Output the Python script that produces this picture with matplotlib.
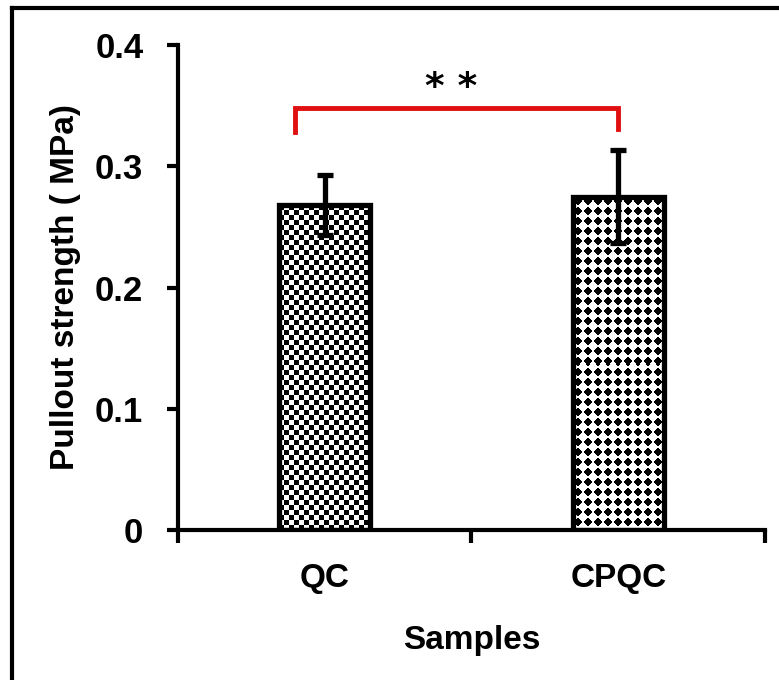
import numpy as np
import matplotlib
matplotlib.use("Agg")
import matplotlib.pyplot as plt
from matplotlib.lines import Line2D

# data
samples = ["QC", "CPQC"]
strength = [0.268, 0.275]
strength_err = [0.025, 0.038]
yticks = [0, 0.1, 0.2, 0.3, 0.4]
ytick_labels = ["0", "0.1", "0.2", "0.3", "0.4"]
bracket_y = 0.348
bracket_ends = [0.328, 0.331]
signif = "* *"

plt.rcParams["font.family"] = ["Liberation Sans", "DejaVu Sans"]
plt.rcParams["font.weight"] = "bold"

fig = plt.figure(figsize=(7.79, 6.8), dpi=100)
ax = fig.add_axes([0.2285, 0.2206, 0.982 - 0.2285, 0.9338 - 0.2206])

x = np.arange(len(samples))
bars = ax.bar(x, strength, width=0.31, facecolor="none", edgecolor="black",
              linewidth=3.8, zorder=3)
ax.errorbar(x, strength, yerr=strength_err, fmt="none", ecolor="black",
            elinewidth=3.8, capsize=6, capthick=3.8, zorder=4)

ax.set_xlim(-0.5, 1.5)
ax.set_ylim(0, 0.4)
fig.canvas.draw()


# texture inside the bars (checker for QC, diamond dots for CPQC)
def fill_texture(bar, kind):
    x0, y0 = bar.get_x(), bar.get_y()
    x1, y1 = x0 + bar.get_width(), y0 + bar.get_height()
    p0 = ax.transData.transform((x0, y0))
    p1 = ax.transData.transform((x1, y1))
    nx = int(round(abs(p1[0] - p0[0])))
    ny = int(round(abs(p1[1] - p0[1])))
    jj, ii = np.meshgrid(np.arange(nx), np.arange(ny))
    if kind == "checker":
        img = ((ii // 5 + jj // 5) % 2).astype(float)
    else:
        dx = (jj % 10) - 4.5
        dy = (ii % 10) - 4.5
        img = (np.abs(dx) + np.abs(dy) > 4.2).astype(float)
    im = ax.imshow(img, cmap="gray", vmin=0, vmax=1, interpolation="nearest",
                   extent=(x0, x1, y0, y1), aspect="auto", zorder=2)
    im.set_clip_path(bar)


fill_texture(bars[0], "checker")
fill_texture(bars[1], "dots")
ax.set_xlim(-0.5, 1.5)
ax.set_ylim(0, 0.4)

# significance bracket
ax.plot([-0.1, -0.1, 1.0, 1.0], [bracket_ends[0], bracket_y, bracket_y, bracket_ends[1]],
        color="#e01010", linewidth=3.5, solid_joinstyle="miter", clip_on=False, zorder=5)
ax.text(0.43, bracket_y + 0.002, signif, ha="center", va="bottom", fontsize=27,
        fontweight="bold", family=["DejaVu Sans"])

# axes style
for s in ["top", "right"]:
    ax.spines[s].set_visible(False)
for s in ["left", "bottom"]:
    ax.spines[s].set_linewidth(3)

ax.set_yticks(yticks)
ax.set_yticklabels(ytick_labels)
ax.tick_params(axis="y", direction="out", length=8, width=3, pad=17, labelsize=25)
ax.set_xticks(x)
ax.set_xticklabels(samples)
ax.set_xticks([-0.5, 0.5, 1.5], minor=True)
ax.tick_params(axis="x", which="major", length=0, pad=24, labelsize=24)
ax.tick_params(axis="x", which="minor", direction="out", length=9, width=3)
for lab in ax.get_xticklabels() + ax.get_yticklabels():
    lab.set_fontweight("bold")

ax.set_ylabel("Pullout strength ( MPa)", fontsize=24, fontweight="bold", labelpad=10)
ax.set_xlabel("Samples", fontsize=24, fontweight="bold", labelpad=22)

# outer frame (left and top edges visible)
fig.add_artist(Line2D([12 / 779, 12 / 779], [0, 1 - 8 / 680], transform=fig.transFigure,
                      color="black", linewidth=3))
fig.add_artist(Line2D([12 / 779, 1], [1 - 8 / 680, 1 - 8 / 680], transform=fig.transFigure,
                      color="black", linewidth=3))

fig.savefig("out.png", dpi=100)
